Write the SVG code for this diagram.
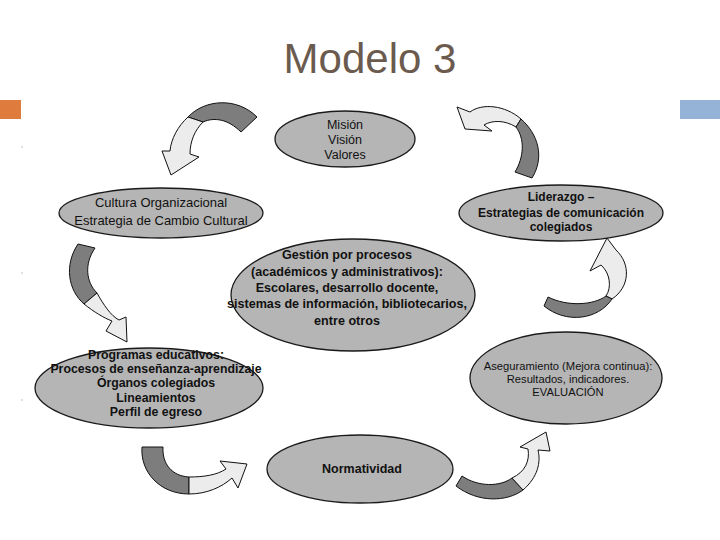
<svg xmlns="http://www.w3.org/2000/svg" width="720" height="540" viewBox="0 0 720 540">
<style>
.node ellipse{fill:#b5b5b5;stroke:#1a1a1a;stroke-width:1.3}
.t{font-family:"Liberation Sans",Arial,sans-serif;fill:#111;text-anchor:middle}
.dark{fill:#7d7d7d;stroke:#111;stroke-width:1}
.light{fill:#ececec;stroke:#111;stroke-width:1}
.dot{fill:#aaa}
</style>
<rect width="720" height="540" fill="#fff"/>
<text x="370" y="73" font-family="'Liberation Sans',Arial,sans-serif" font-size="42" fill="#6b5b4f" text-anchor="middle">Modelo 3</text>
<rect x="0" y="100" width="21" height="19" fill="#e07b3e"/>
<rect x="680" y="100" width="40" height="19" fill="#95b3d7"/>
<circle class="dot" cx="22" cy="147" r="0.7"/><circle class="dot" cx="22" cy="273" r="0.7"/><circle class="dot" cx="22" cy="400" r="0.7"/>

<g id="connectors">
<g id="arrow-a"><path class="dark" d="M188,117 C205,99 237,97 257,117 L241,132 C228,119 214,117 203,122 Z"/><path class="light" d="M188,117 C178,126 171,139 170,151 L162,151 L171,175 L199,157 L190,154 C190,141 195,130 203,122 Z"/></g>
<g id="arrow-b"><path class="light" d="M521,119 C505,105 482,103 470,112 L457,107 L465,129 L492,131 L484,125 C492,120 505,120 516,127 Z"/><path class="dark" d="M521,119 C538,134 545,157 532,178 L515,172 C524,157 525,139 516,127 Z"/></g>
<g id="arrow-c"><path class="light" d="M607,238 L590,271 L601,265 C610,273 612,287 606,296 L612,299 C630,287 631,264 616,250 Z"/><path class="dark" d="M612,299 C598,320 566,324 544,306 L548,297 C568,307 594,305 606,296 Z"/></g>
<g id="arrow-d"><path class="dark" d="M456,486 C478,503 507,502 523,490 L512,478 C500,487 478,487 462,476 Z"/><path class="light" d="M523,490 C538,477 541,462 538,450 L550,451 L546,432 L520,447 L528,449 C530,461 525,472 512,478 Z"/></g>
<g id="arrow-e"><path class="dark" d="M142,447 C140,472 160,494 189,494 L189,477 C172,476 162,464 163,447 Z"/><path class="light" d="M189,494 C207,494 222,487 232,478 L238,488 L247,464 L220,461 L226,469 C217,475 204,477 189,477 Z"/></g>
<g id="arrow-f"><path class="dark" d="M78,244 C64,265 68,290 84,304 L97,293 C86,282 84,264 95,248 Z"/><path class="light" d="M84,304 C94,312 104,318 112,321 L106,331 L127,342 L126,317 L119,320 C111,316 103,304 97,293 Z"/></g>
</g>

<g id="mision" class="node"><ellipse cx="345" cy="139" rx="70" ry="28"/>
<text class="t" font-size="12.5" x="345" y="129">Misión</text><text class="t" font-size="12.5" x="345" y="144">Visión</text><text class="t" font-size="12.5" x="345" y="159">Valores</text></g>

<g id="cultura" class="node"><ellipse cx="161" cy="213" rx="102" ry="25"/>
<text class="t" font-size="13" x="161" y="207">Cultura Organizacional</text><text class="t" font-size="13" x="161" y="225">Estrategia de Cambio Cultural</text></g>

<g id="liderazgo" class="node"><ellipse cx="561" cy="213" rx="102" ry="28"/>
<text class="t" font-size="12" font-weight="bold" x="561" y="201">Liderazgo –</text><text class="t" font-size="12" font-weight="bold" x="561" y="217">Estrategias de comunicación</text><text class="t" font-size="12" font-weight="bold" x="561" y="231">colegiados</text></g>

<g id="gestion" class="node"><ellipse cx="353" cy="295" rx="122" ry="56"/>
<text class="t" font-size="12.6" font-weight="bold" x="347" y="259">Gestión por procesos</text>
<text class="t" font-size="12.6" font-weight="bold" x="347" y="276">(académicos y administrativos):</text>
<text class="t" font-size="12.6" font-weight="bold" x="347" y="292">Escolares, desarrollo docente,</text>
<text class="t" font-size="12.6" font-weight="bold" x="347" y="308">sistemas de información, bibliotecarios,</text>
<text class="t" font-size="12.6" font-weight="bold" x="347" y="325">entre otros</text></g>

<g id="programas" class="node"><ellipse cx="149" cy="388" rx="114" ry="40"/>
<text class="t" font-size="12.3" font-weight="bold" x="156" y="359">Programas educativos:</text>
<text class="t" font-size="12.3" font-weight="bold" x="156" y="373">Procesos de enseñanza-aprendizaje</text>
<text class="t" font-size="12.3" font-weight="bold" x="156" y="387">Órganos colegiados</text>
<text class="t" font-size="12.3" font-weight="bold" x="156" y="402">Lineamientos</text>
<text class="t" font-size="12.3" font-weight="bold" x="156" y="416">Perfil de egreso</text></g>

<g id="aseguramiento" class="node"><ellipse cx="566" cy="378" rx="96" ry="46"/>
<text class="t" font-size="11.2" x="568" y="370">Aseguramiento (Mejora continua):</text>
<text class="t" font-size="11.2" x="568" y="383">Resultados, indicadores.</text>
<text class="t" font-size="11.2" x="568" y="396">EVALUACIÓN</text></g>

<g id="normatividad" class="node"><ellipse cx="360" cy="469" rx="93" ry="34"/>
<text class="t" font-size="12.5" font-weight="bold" x="362" y="473">Normatividad</text></g>
</svg>
